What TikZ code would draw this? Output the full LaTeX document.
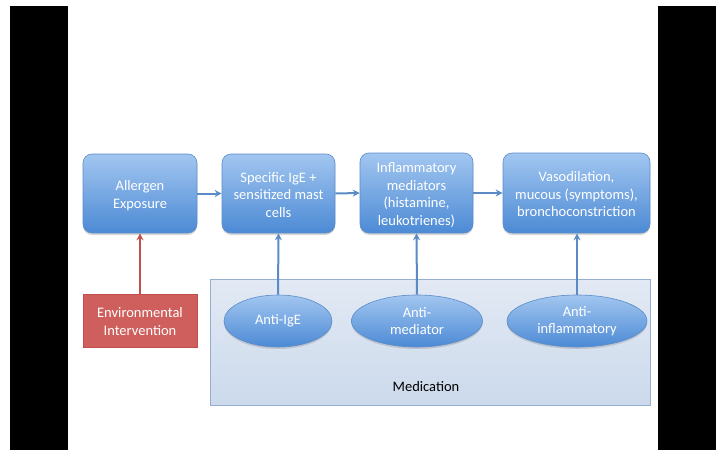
\documentclass[tikz,border=0pt]{standalone}
\usepackage{fontspec}
\setmainfont{Carlito}
\usetikzlibrary{arrows.meta,shapes.geometric,shadows}
\definecolor{boxtop}{HTML}{A2C6F0}
\definecolor{boxbot}{HTML}{4C8AD5}
\definecolor{boxline}{HTML}{5B8CC8}
\definecolor{arrowblue}{HTML}{5B8BC4}
\definecolor{redfill}{HTML}{CF5F5C}
\definecolor{redline}{HTML}{C0504D}
\definecolor{medtop}{HTML}{E2E9F4}
\definecolor{medbot}{HTML}{CCDAEC}
\definecolor{medline}{HTML}{94AFCF}
\newcommand{\lowtext}[1]{\raisebox{-2.5pt}[\height][\depth]{\begin{tabular}{@{}c@{}}#1\end{tabular}}}
\tikzset{
  stepbox/.style={rectangle, rounded corners=9pt, draw=boxline, line width=0.6pt,
    top color=boxtop, bottom color=boxbot, text=white, align=center,
    font=\fontsize{14.5}{17.5}\selectfont, inner sep=2pt,
    drop shadow={shadow xshift=0pt, shadow yshift=-2pt, opacity=0.3}},
  drugell/.style={ellipse, draw=boxline, line width=0.6pt,
    top color=boxtop, bottom color=boxbot, text=white, align=center,
    font=\fontsize{14.5}{17.5}\selectfont, inner sep=0pt,
    drop shadow={shadow xshift=0pt, shadow yshift=-2pt, opacity=0.3}},
  envbox/.style={rectangle, draw=redline, line width=0.6pt, fill=redfill,
    text=white, align=center, font=\fontsize{14.5}{17.5}\selectfont, inner sep=2pt},
  medbox/.style={rectangle, draw=medline, line width=0.8pt,
    top color=medtop, bottom color=medbot},
  flow/.style={draw=arrowblue, line width=2pt, -{Stealth[length=7pt,width=7pt]}},
  redflow/.style={draw=redline, line width=2pt, -{Stealth[length=7pt,width=7pt]}},
}
\begin{document}
\begin{tikzpicture}[x=1pt,y=-1pt]
\useasboundingbox (0,0) rectangle (723,458);
\fill[white] (0,0) rectangle (723,458);
\fill[black] (10,6) rectangle (68,450);
\fill[black] (658,6) rectangle (716,450);

\node[medbox, minimum width=440pt, minimum height=126pt] (med) at (430,342) {};
\node[font=\fontsize{14.5}{17.5}\selectfont, text=black] (medlabel) at (426,387) {Medication};

\node[stepbox, minimum width=114pt, minimum height=79pt] (allergen) at (140,193.5) {\lowtext{Allergen\\Exposure}};
\node[stepbox, minimum width=113pt, minimum height=79pt] (ige) at (278.5,193.5) {\lowtext{Specific IgE +\\sensitized mast\\cells}};
\node[stepbox, minimum width=113pt, minimum height=80pt] (infl) at (416.5,193) {\lowtext{Inflammatory\\mediators\\(histamine,\\leukotrienes)}};
\node[stepbox, minimum width=147pt, minimum height=80pt] (vaso) at (576.5,193) {\lowtext{Vasodilation,\\mucous (symptoms),\\bronchoconstriction}};

\node[envbox, minimum width=114pt, minimum height=53pt] (env) at (140,320.5) {\lowtext{Environmental\\Intervention}};

\node[drugell, minimum width=108pt, minimum height=52pt] (antiige) at (278,321) {Anti-IgE};
\node[drugell, minimum width=131pt, minimum height=52pt] (antimed) at (417,321) {Anti-\\mediator};
\node[drugell, minimum width=140pt, minimum height=52pt] (antiinf) at (577,321) {Anti-\\inflammatory};

\draw[flow] (allergen.east) -- (ige.west);
\draw[flow] (ige.east) -- (infl.west);
\draw[flow] (infl.east) -- (vaso.west);
\draw[redflow] (env.north) -- (allergen.south);
\draw[flow] (antiige.north) -- (ige.south);
\draw[flow] (antimed.north) -- (infl.south);
\draw[flow] (antiinf.north) -- (vaso.south -| antiinf.north);
\end{tikzpicture}
\end{document}
